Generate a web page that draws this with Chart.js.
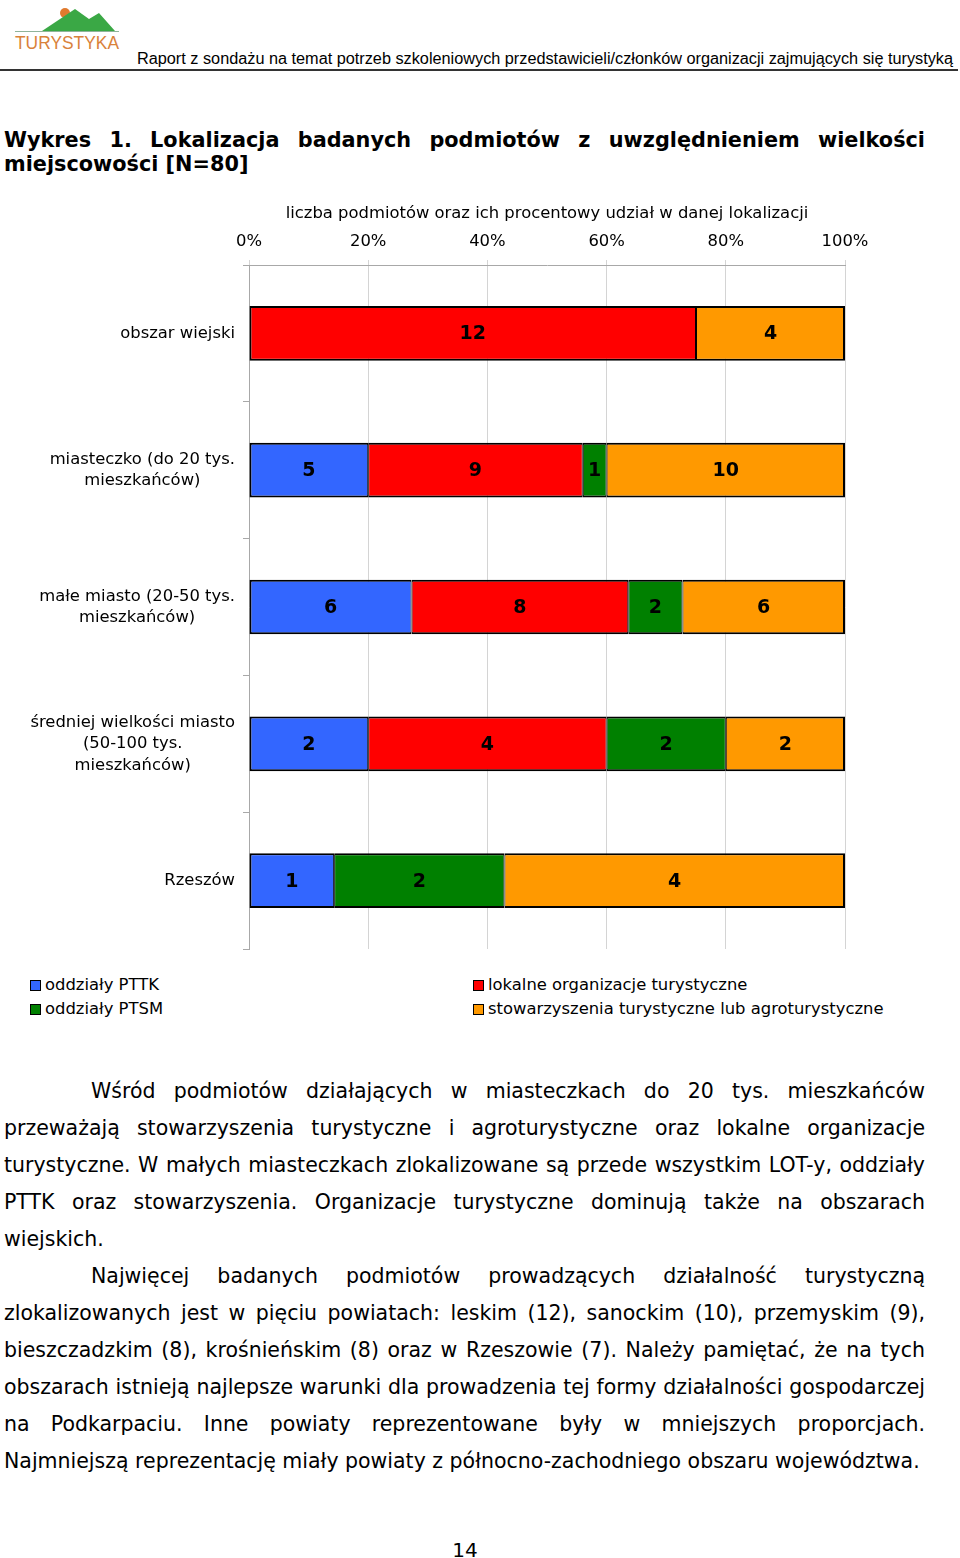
<!DOCTYPE html>
<html>
<head>
<meta charset="utf-8">
<script src="https://cdn.jsdelivr.net/npm/chart.js@4"></script>
<style>
  body { margin: 0; width: 960px; height: 1558px; position: relative; background: #fff; color: #000;
         font-family: "DejaVu Sans", Verdana, sans-serif; overflow: hidden; }
  #logo { position: absolute; left: 0; top: 0; }
  #rule { position: absolute; left: 0; top: 69px; width: 958px; height: 2px; background: #333; }
  .title { position: absolute; left: 4px; width: 921px; font-weight: bold; font-size: 20.8px; line-height: 24px; }
  .line { position: absolute; left: 4px; width: 921px; font-size: 20.5px; line-height: 37px; white-space: nowrap;
          text-align: justify; text-align-last: justify; }
  .line.last { text-align-last: left; }
  .line.indent { left: 91px; width: 834px; }
  #chartBox { position: absolute; left: 0; top: 190px; width: 960px; height: 780px; }
  .leg { position: absolute; font-size: 16.4px; line-height: 20px; white-space: nowrap; }
  .leg i { display: inline-block; width: 9px; height: 9px; border: 1px solid #000; margin-right: 4px; vertical-align: -1px; }
  #page { position: absolute; left: 0; width: 930px; top: 1538px; text-align: center; font-size: 20px; }
</style>
</head>
<body>
<svg id="logo" width="960" height="72">
  <circle cx="65" cy="13" r="5" fill="#e07a2e"/>
  <polygon points="42,31 75,9 89,19 99,13 115,31" fill="#3aa845"/>
  <line x1="15" y1="31.5" x2="119" y2="31.5" stroke="#8fb39a" stroke-width="1"/>
  <text x="15" y="49" font-family="Liberation Sans" font-size="18" fill="#d9823b" textLength="104" lengthAdjust="spacingAndGlyphs">TURYSTYKA</text>
  <text x="137" y="64" font-family="Liberation Sans" font-size="16" fill="#000" textLength="816" lengthAdjust="spacingAndGlyphs">Raport z sondażu na temat potrzeb szkoleniowych przedstawicieli/członków organizacji zajmujących się turystyką</text>
</svg>
<div id="rule"></div>

<div class="title" style="top:128px; text-align:justify; text-align-last:justify; white-space:nowrap;">Wykres 1. Lokalizacja badanych podmiotów z uwzględnieniem wielkości</div>
<div class="title" style="top:152px;">miejscowości [N=80]</div>

<div id="chartBox"><canvas id="chart" width="960" height="780"></canvas></div>
<div id="legend"></div>

<div id="text"></div>
<div id="page">14</div>

<script>
// categories (multi-line labels) and series counts
const categories = [
  ['obszar wiejski'],
  ['miasteczko (do 20 tys.', 'mieszkańców)'],
  ['małe miasto (20-50 tys.', 'mieszkańców)'],
  ['średniej wielkości miasto', '(50-100 tys.', 'mieszkańców)'],
  ['Rzeszów']
];
const seriesNames = ['oddziały PTTK', 'lokalne organizacje turystyczne', 'oddziały PTSM', 'stowarzyszenia turystyczne lub agroturystyczne'];
const seriesColors = ['#3366ff', '#ff0000', '#008000', '#ff9900'];
const pttk = [0, 5, 6, 2, 1];
const lokalne = [12, 9, 8, 4, 0];
const ptsm = [0, 1, 2, 2, 2];
const stowarzyszenia = [4, 10, 6, 2, 4];
const axisTitle = 'liczba podmiotów oraz ich procentowy udział w danej lokalizacji';

const paragraphLines = [
  ['Wśród podmiotów działających w miasteczkach do 20 tys. mieszkańców', 'indent'],
  ['przeważają stowarzyszenia turystyczne i agroturystyczne oraz lokalne organizacje', ''],
  ['turystyczne. W małych miasteczkach zlokalizowane są przede wszystkim LOT-y, oddziały', ''],
  ['PTTK oraz stowarzyszenia. Organizacje turystyczne dominują także na obszarach', ''],
  ['wiejskich.', 'last'],
  ['Najwięcej badanych podmiotów prowadzących działalność turystyczną', 'indent'],
  ['zlokalizowanych jest w pięciu powiatach: leskim (12), sanockim (10), przemyskim (9),', ''],
  ['bieszczadzkim (8), krośnieńskim (8) oraz w Rzeszowie (7). Należy pamiętać, że na tych', ''],
  ['obszarach istnieją najlepsze warunki dla prowadzenia tej formy działalności gospodarczej', ''],
  ['na Podkarpaciu. Inne powiaty reprezentowane były w mniejszych proporcjach.', ''],
  ['Najmniejszą reprezentację miały powiaty z północno-zachodniego obszaru województwa.', 'last']
];

const FONT = '"DejaVu Sans", Verdana, sans-serif';
const seriesCounts = [pttk, lokalne, ptsm, stowarzyszenia];
const totals = categories.map((_, i) => seriesCounts.reduce((a, s) => a + s[i], 0));

// text body
const textEl = document.getElementById('text');
paragraphLines.forEach(([t, cls], k) => {
  const d = document.createElement('div');
  d.className = 'line ' + cls;
  d.style.top = (1073 + k * 37) + 'px';
  d.textContent = t;
  textEl.appendChild(d);
});

// legend, two columns filled row by row
const legendEl = document.getElementById('legend');
seriesNames.forEach((name, k) => {
  const d = document.createElement('div');
  d.className = 'leg';
  d.style.left = (k % 2 === 0 ? 30 : 473) + 'px';
  d.style.top = (975 + Math.floor(k / 2) * 24) + 'px';
  d.innerHTML = '<i style="background:' + seriesColors[k] + '"></i>' + name;
  legendEl.appendChild(d);
});

function sideWidths(ctx) {
  const i = ctx.dataIndex, d = ctx.datasetIndex;
  const nonzero = seriesCounts.map((s, k) => s[i] > 0 ? k : -1).filter(k => k >= 0);
  return {
    top: 2, bottom: 2,
    left: d === nonzero[0] ? 2 : 1,
    right: d === nonzero[nonzero.length - 1] ? 2 : 1
  };
}

// category labels: each block right aligned, lines centred inside it
const yLabels = {
  id: 'yLabels',
  afterDraw(chart) {
    const { ctx, scales: { y } } = chart;
    ctx.save();
    ctx.font = '16.4px ' + FONT;
    ctx.fillStyle = '#000';
    ctx.textAlign = 'center';
    ctx.textBaseline = 'middle';
    categories.forEach((lines, i) => {
      const w = Math.max(...lines.map(l => ctx.measureText(l).width));
      const cx = y.right - 14 - w / 2;
      const cy = y.getPixelForTick(i);
      lines.forEach((l, j) => ctx.fillText(l, cx, cy + (j - (lines.length - 1) / 2) * 21.5));
    });
    ctx.restore();
  }
};

// counts written in the middle of each segment
const valueLabels = {
  id: 'valueLabels',
  afterDatasetsDraw(chart) {
    const { ctx } = chart;
    ctx.save();
    ctx.font = 'bold 19px ' + FONT;
    ctx.fillStyle = '#000';
    ctx.textAlign = 'center';
    ctx.textBaseline = 'middle';
    chart.data.datasets.forEach((ds, di) => {
      chart.getDatasetMeta(di).data.forEach((bar, i) => {
        const n = seriesCounts[di][i];
        if (!n) return;
        ctx.fillText(String(n), (bar.x + bar.base) / 2, bar.y + 1);
      });
    });
    ctx.restore();
  }
};

new Chart(document.getElementById('chart'), {
  type: 'bar',
  data: {
    labels: categories,
    datasets: seriesNames.map((name, k) => ({
      label: name,
      data: seriesCounts[k].map((v, i) => v / totals[i] * 100),
      backgroundColor: seriesColors[k],
      borderColor: '#000',
      borderWidth: sideWidths,
      borderSkipped: false,
      categoryPercentage: 1,
      barPercentage: 0.4
    }))
  },
  options: {
    indexAxis: 'y',
    responsive: false,
    animation: false,
    layout: { padding: { left: 0, right: 115, top: 0, bottom: 21 } },
    scales: {
      x: {
        position: 'top',
        stacked: true,
        min: 0,
        max: 100,
        ticks: { stepSize: 20, callback: v => v + '%', color: '#000', font: { family: FONT, size: 16.4 }, padding: 8 },
        grid: { color: '#d4d4d4', tickLength: 5 },
        border: { color: '#a8a8a8' },
        title: { display: true, text: axisTitle, color: '#000', font: { family: FONT, size: 16.4 }, padding: { top: 14, bottom: 0 } },
        afterFit: s => { s.height = 75; }
      },
      y: {
        stacked: true,
        ticks: { display: false },
        grid: { offset: true, drawOnChartArea: false, tickLength: 6, color: '#a8a8a8' },
        border: { color: '#a8a8a8' },
        afterFit: s => { s.width = 249; }
      }
    },
    plugins: {
      legend: { display: false },
      tooltip: { enabled: false }
    }
  },
  plugins: [yLabels, valueLabels]
});
</script>
</body>
</html>
